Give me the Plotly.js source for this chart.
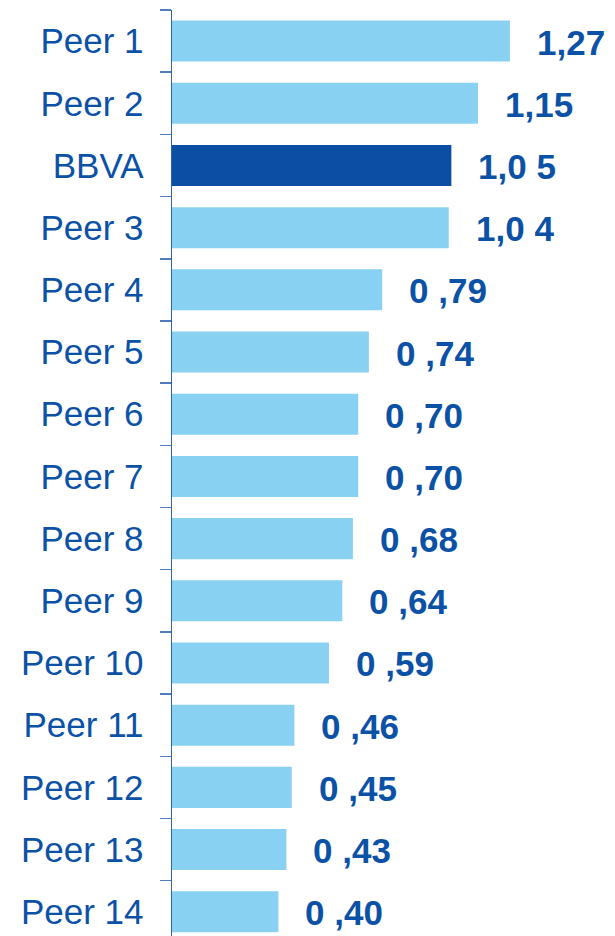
<!DOCTYPE html>
<html>
<head>
<meta charset="utf-8">
<script src="https://cdn.plot.ly/plotly-3.0.1.min.js"></script>
<style>html,body{margin:0;padding:0;background:#fff;}#chart{width:615px;height:936px;}</style>
</head>
<body>
<div id="chart"></div>
<script>
const categories = ['Peer 1','Peer 2','BBVA','Peer 3','Peer 4','Peer 5','Peer 6','Peer 7','Peer 8','Peer 9','Peer 10','Peer 11','Peer 12','Peer 13','Peer 14'];
const values = [1.27,1.15,1.05,1.04,0.79,0.74,0.70,0.70,0.68,0.64,0.59,0.46,0.45,0.43,0.40];
const valueLabels = ['1,27','1,15','1,0 5','1,0 4','0 ,79','0 ,74','0 ,70','0 ,70','0 ,68','0 ,64','0 ,59','0 ,46','0 ,45','0 ,43','0 ,40'];
const highlight = 'BBVA';

const lightBlue = '#89d1f2';
const darkBlue = '#0a4fa3';
const textBlue = '#0b52a6';

const barColors = categories.map(c => c === highlight ? darkBlue : lightBlue);

const trace = {
  type: 'bar',
  orientation: 'h',
  x: values,
  y: categories,
  marker: {color: barColors, line: {width: 0}},
  hoverinfo: 'none'
};

const annotations = categories.map((c, i) => ({
  x: values[i],
  y: c,
  xref: 'x',
  yref: 'y',
  text: '<b>' + valueLabels[i] + '</b>',
  showarrow: false,
  xanchor: 'left',
  yanchor: 'middle',
  xshift: 25,
  yshift: -1,
  font: {family: 'Liberation Sans, Arial, sans-serif', size: 35, color: textBlue}
}));

const layout = {
  width: 615,
  height: 936,
  margin: {l: 172, r: 0, t: 10, b: 0},
  paper_bgcolor: '#ffffff',
  plot_bgcolor: '#ffffff',
  showlegend: false,
  bargap: 0.34,
  xaxis: {range: [0, 1.665], visible: false, fixedrange: true},
  yaxis: {
    type: 'category',
    range: [14.39, -0.5],
    showline: true,
    linecolor: '#2f62ad',
    linewidth: 1.5,
    ticks: 'outside',
    ticklen: 11,
    tickwidth: 1.5,
    tickcolor: '#4f7cbd',
    tickson: 'boundaries',
    showgrid: false,
    zeroline: false,
    ticklabelstandoff: 20,
    tickfont: {family: 'Liberation Sans, Arial, sans-serif', size: 35, color: textBlue}
  },
  annotations: annotations
};

Plotly.newPlot('chart', [trace], layout, {displayModeBar: false, staticPlot: true});
</script>
</body>
</html>
